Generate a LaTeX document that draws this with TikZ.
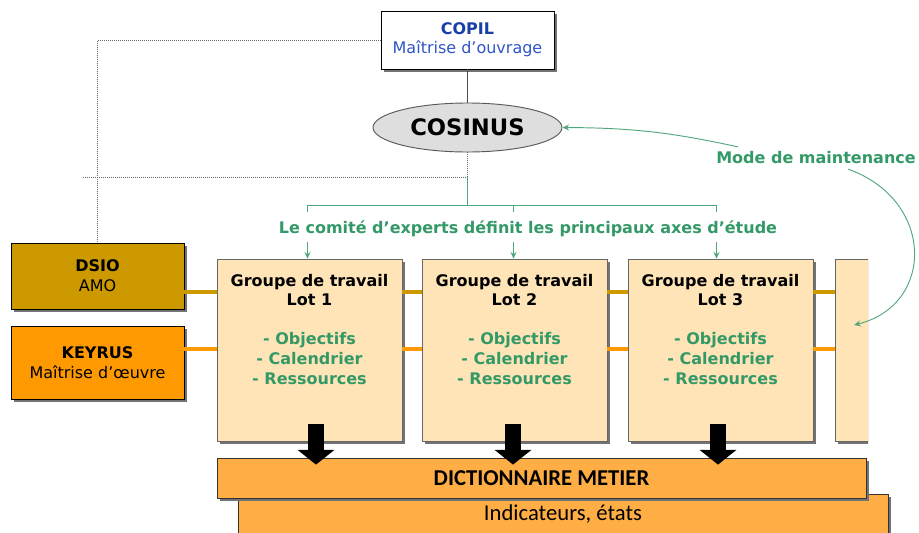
\documentclass[tikz,border=0pt]{standalone}
\usepackage{fontspec}
\setmainfont{DejaVu Sans}
\newfontfamily\carlito{Carlito}
\usetikzlibrary{arrows.meta,shapes.geometric,shadows,calc}

\definecolor{vert}{HTML}{339966}
\definecolor{bleufonce}{HTML}{1A3EA8}
\definecolor{bleu}{HTML}{2F55C8}
\definecolor{dore}{HTML}{CC9900}
\definecolor{orange}{HTML}{FF9900}
\definecolor{peche}{HTML}{FFE4B8}
\definecolor{abricot}{HTML}{FFAE45}

\begin{document}
\begin{tikzpicture}[
    x=0.75pt, y=-0.75pt,
    font=\fontsize{12}{14}\selectfont,
    ombre/.style     ={drop shadow={shadow xshift=2pt, shadow yshift=-2pt, fill=black!55, opacity=1}},
    copil/.style     ={draw=black, fill=white, line width=0.7pt, minimum width=129.75pt,
                       minimum height=43.5pt, align=center, inner sep=0pt, ombre,
                       font=\fontsize{12}{14.25}\selectfont},
    cosinus/.style   ={ellipse, draw=black!65, fill=black!13, line width=0.7pt, inner sep=0pt,
                       minimum width=141.75pt, minimum height=36.75pt,
                       font=\fontsize{17}{20}\selectfont\bfseries},
    acteur/.style    ={draw=black, line width=0.7pt, minimum width=129.75pt, align=center,
                       inner sep=0pt, ombre, font=\fontsize{12}{15}\selectfont},
    groupe/.style    ={draw=black!60, fill=peche, line width=0.5pt, minimum width=138.75pt,
                       minimum height=136.5pt, inner sep=0pt, ombre},
    titre/.style     ={align=center, inner sep=0pt, font=\fontsize{12}{14.25}\selectfont\bfseries},
    liste/.style     ={align=center, inner sep=0pt, text=vert, font=\fontsize{12}{15}\selectfont\bfseries},
    bande/.style     ={draw=black!80, fill=abricot, line width=0.6pt, minimum height=30pt,
                       inner sep=0pt, ombre},
    note/.style      ={text=vert, inner sep=2pt, font=\fontsize{12}{14}\selectfont\bfseries},
    pointille/.style ={draw=black!60, line width=0.5pt, densely dotted},
    vertl/.style     ={draw=vert!85, line width=0.7pt},
    vfl/.style       ={-{Stealth[length=5pt,width=4.5pt]}, draw=vert!85, line width=0.7pt},
    bloc/.style      ={-{Triangle[length=11pt,width=27pt]}, draw=black, line width=12pt},
    lien/.style      ={line width=2.4pt}
  ]
  \useasboundingbox (0,0) rectangle (919,532);

  % --- pilotage ----------------------------------------------------------
  \node[copil] (copil) at (467.5,40)
    {{\bfseries\color{bleufonce}COPIL}\\{\color{bleu}Maîtrise d’ouvrage}};
  \node[cosinus] (cosinus) at (467.5,127.5) {COSINUS};
  \draw[draw=black!70, line width=0.9pt] (copil.south) -- (cosinus.north);

  % --- acteurs -----------------------------------------------------------
  \node[acteur, fill=dore, minimum height=49.5pt] (dsio) at (97.5,276)
    {\textbf{DSIO}\\AMO};
  \node[acteur, fill=orange, minimum height=54.75pt] (keyrus) at (97.5,362.5)
    {\textbf{KEYRUS}\\Maîtrise d’œuvre};

  \coordinate (bout) at (83,177);
  \coordinate (fourche) at (467.5,205);
  \draw[pointille] (copil.west) -| (dsio.north);
  \draw[pointille] (cosinus.south) |- (bout);

  % --- groupes de travail ------------------------------------------------
  \coordinate (ydore) at (0,292);
  \coordinate (yorange) at (0,349);
  \foreach \i/\x in {1/309.5, 2/514.5, 3/720.5} {
    \node[groupe] (g\i) at (\x,350) {};
    \node[titre] (t\i) at (\x,290.5) {Groupe de travail\\Lot \i};
    \node[liste] (l\i) at (\x,359) {- Objectifs\\- Calendrier\\- Ressources};
  }
  \begin{scope}
    \clip (828,250) rectangle (868,452);
    \node[groupe] (g4) at (927.5,350) {};
  \end{scope}

  \foreach \a/\b in {dsio/g1, g1/g2, g2/g3, g3/g4} {
    \draw[lien, dore] (\a.east |- ydore) -- (\b.west |- ydore);
  }
  \foreach \a/\b in {keyrus/g1, g1/g2, g2/g3, g3/g4} {
    \draw[lien, orange] (\a.east |- yorange) -- (\b.west |- yorange);
  }

  % --- comite d'experts --------------------------------------------------
  \node[note] (comite) at (528,229) {Le comité d’experts définit les principaux axes d’étude};
  \draw[vertl] (bout -| fourche) -- (fourche);
  \draw[vertl] ($(g1.north |- fourche)+(-2,7)$) -- ($(g1.north |- fourche)+(-2,0)$)
    -- ($(g3.north |- fourche)+(-4,0)$) -- ($(g3.north |- fourche)+(-4,7)$);
  \draw[vertl] ($(g2.north |- fourche)+(-1,0)$) -- ($(g2.north |- fourche)+(-1,7)$);
  \foreach \i/\dx in {1/-2, 2/-1, 3/-4}
    \draw[vfl] ($(g\i.north |- comite.south)+(\dx,2)$) -- ($(g\i.north)+(\dx,0)$);

  % --- mode de maintenance -----------------------------------------------
  \node[note] (mode) at (816,158) {Mode de maintenance};
  \coordinate (cible) at (854,325);
  \draw[vfl] ($(mode.north)+(-78,-2)$) to[bend right=6] (cosinus.east);
  \draw[vfl] ($(mode.south)+(32,2)$) .. controls (935,200) and (935,305) .. (cible);

  % --- dictionnaire ------------------------------------------------------
  \node[bande, minimum width=487.5pt] (indic) at (563,514)
    {\carlito\fontsize{17}{19}\selectfont Indicateurs, états};
  \node[bande, minimum width=486.75pt] (dico) at (541.5,478)
    {\carlito\fontsize{17}{19}\selectfont\bfseries DICTIONNAIRE METIER};
  \foreach \i/\dx in {1/6.5, 2/-1.5, 3/-2.5}
    \draw[bloc] ($(g\i.south)+(\dx,-17)$) -- ($(g\i.south |- dico.north)+(\dx,7)$);

\end{tikzpicture}
\end{document}
